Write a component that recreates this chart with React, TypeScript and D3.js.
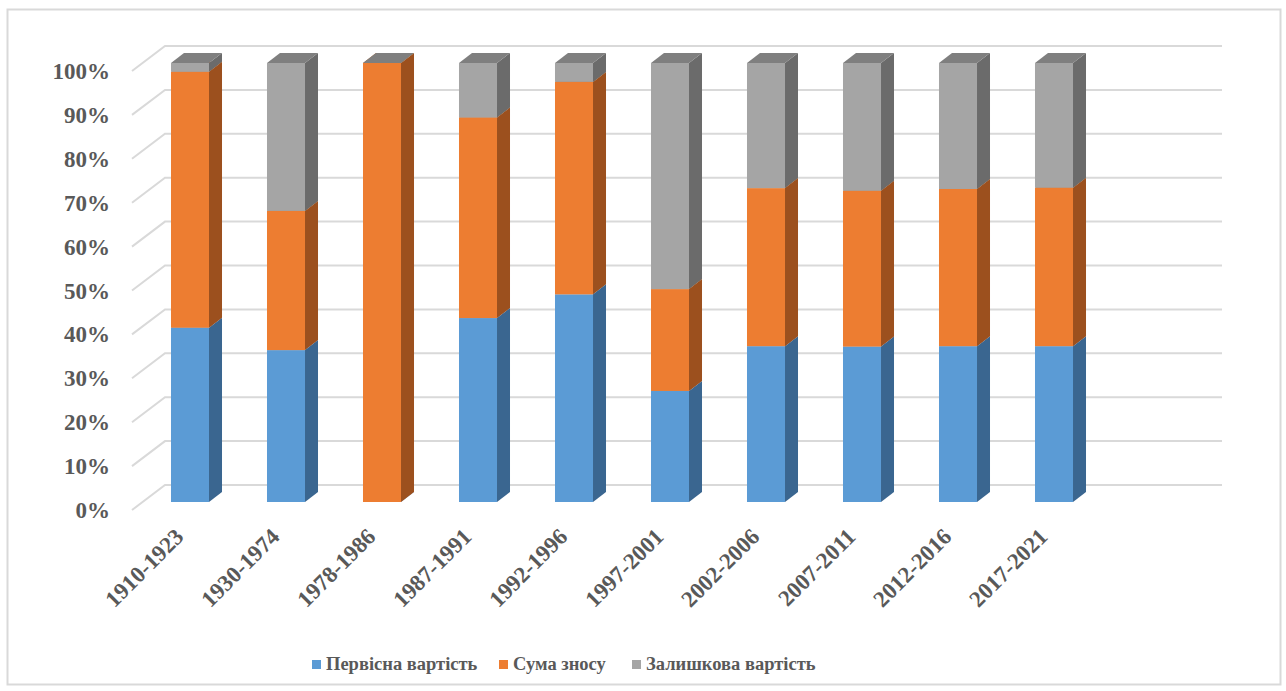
import React from "react";
import * as d3 from "d3";

const categories = ["1910-1923","1930-1974","1978-1986","1987-1991","1992-1996","1997-2001","2002-2006","2007-2011","2012-2016","2017-2021"];
const seriesNames = ["Первісна вартість","Сума зносу","Залишкова вартість"];
const pervisna = [39.7, 34.6, 0, 41.9, 47.3, 25.3, 35.5, 35.4, 35.5, 35.5];
const znos = [58.3, 31.7, 100, 45.7, 48.4, 23.2, 36.0, 35.5, 35.8, 36.1];
const zalyshok = [2.0, 33.7, 0, 12.4, 4.3, 51.5, 28.5, 29.1, 28.7, 28.4];
const yTicks = [0, 10, 20, 30, 40, 50, 60, 70, 80, 90, 100];

const frontColors = ["#5B9BD5", "#ED7D31", "#A5A5A5"];
const sideColors = ["#3A6690", "#9C501E", "#6B6B6B"];
const topColors = ["#7FA8D0", "#C0692A", "#7F7F7F"];

const W = 1286, H = 691;
const textStyle = (size: number): React.CSSProperties => ({
  fontFamily: "'Times New Roman', 'Liberation Serif', Tinos, serif",
  fontWeight: 700,
  fontSize: size + "px",
  fill: "#595959",
});

export default function App() {
  const yFront = d3.scaleLinear().domain([0, 100]).range([510, 71]);
  const wallDx = 33, wallDy = -25;
  const frontLeft = 132, backRight = 1222;
  const barOffY = -8;
  const x = d3.scaleBand<string>().domain(categories).range([142, 1102]).paddingInner(0.604).paddingOuter(0.302);
  const bw = x.bandwidth();
  const depthX = 13, depthY = -10;
  const stacked = d3.stack<any>().keys(["a","b","c"])(categories.map((c, i) => ({ a: pervisna[i], b: znos[i], c: zalyshok[i] })));

  const yBar = (v: number) => yFront(v) + barOffY;

  return (
    <svg width={W} height={H} style={{ position: "absolute", left: 0, top: 0 }}>
      <rect x={7.5} y={9.5} width={1273} height={675} fill="#fff" stroke="#D9D9D9" strokeWidth={2} />
      {yTicks.map(t => {
        const yf = yFront(t);
        return (
          <g key={t}>
            <polyline points={`${frontLeft},${yf} ${frontLeft + wallDx},${yf + wallDy} ${backRight},${yf + wallDy}`} fill="none" stroke="#D9D9D9" strokeWidth={2} />
            <text x={110} y={yf + 8} textAnchor="end" style={textStyle(23)}>{t}%</text>
          </g>
        );
      })}
      {categories.map((c, i) => {
        const x0 = x(c)!;
        return (
          <g key={c}>
            {stacked.map((s, k) => {
              const y0 = yBar(s[i][0]);
              const y1 = yBar(s[i][1]);
              return (
                <g key={k}>
                  <rect x={x0} y={y1} width={bw} height={Math.max(0, y0 - y1)} fill={frontColors[k]} />
                  <polygon points={`${x0 + bw},${y0} ${x0 + bw + depthX},${y0 + depthY} ${x0 + bw + depthX},${y1 + depthY} ${x0 + bw},${y1}`} fill={sideColors[k]} />
                  <polygon points={`${x0},${y1} ${x0 + depthX},${y1 + depthY} ${x0 + bw + depthX},${y1 + depthY} ${x0 + bw},${y1}`} fill={topColors[k]} />
                </g>
              );
            })}
            <text transform={`translate(${x0 + bw / 2 - 5},${538}) rotate(-45)`} textAnchor="end" style={textStyle(23)}>{c}</text>
          </g>
        );
      })}
      {(() => {
        const items = [312, 499, 632];
        return seriesNames.map((n, k) => (
          <g key={n}>
            <rect x={items[k]} y={660} width={9} height={9} fill={frontColors[k]} />
            <text x={items[k] + 14} y={670} style={textStyle(18.5)}>{n}</text>
          </g>
        ));
      })()}
    </svg>
  );
}
